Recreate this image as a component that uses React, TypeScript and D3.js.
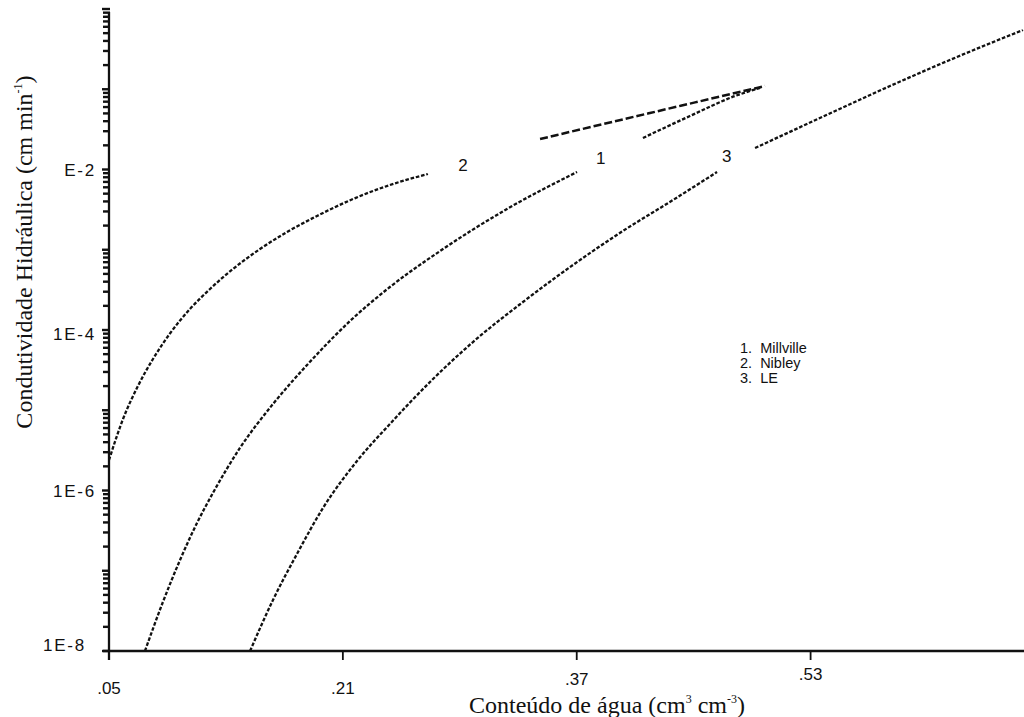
import React from 'react';
import * as d3 from 'd3';

// Water content (cm3 cm-3) vs log10 of hydraulic conductivity (cm min-1).
// Each soil curve is split where the printed number labels interrupt it.
const millvilleLower: [number, number][] = [
  [0.0746, -8.0], [0.0869, -7.389], [0.0986, -6.866], [0.1102, -6.405], [0.1211, -6.031],
  [0.1396, -5.47], [0.1622, -4.922], [0.1855, -4.436], [0.2149, -3.888], [0.2422, -3.464],
  [0.2765, -3.016], [0.3223, -2.492], [0.3702, -2.031],
];
const millvilleUpper: [number, number][] = [
  [0.4153, -1.607], [0.4475, -1.333], [0.4783, -1.084], [0.4954, -0.984],
];
const nibleyLower: [number, number][] = [
  [0.05, -5.62], [0.0596, -5.109], [0.0698, -4.698], [0.0801, -4.361], [0.0917, -4.044],
  [0.1054, -3.738], [0.1191, -3.489], [0.1348, -3.24], [0.1533, -2.991], [0.1718, -2.779],
  [0.1923, -2.579], [0.2169, -2.368], [0.2422, -2.193], [0.2682, -2.056],
];
const nibleyUpper: [number, number][] = [
  [0.3449, -1.62], [0.4201, -1.296], [0.4988, -0.96],
];
const leLower: [number, number][] = [
  [0.1465, -8.0], [0.1622, -7.364], [0.1786, -6.791], [0.1964, -6.218], [0.2197, -5.632],
  [0.2422, -5.171], [0.2696, -4.648], [0.299, -4.15], [0.3332, -3.651], [0.3674, -3.19],
  [0.4016, -2.766], [0.4359, -2.38], [0.466, -2.031],
];
const leUpper: [number, number][] = [
  [0.492, -1.732], [0.5275, -1.433], [0.5843, -0.96], [0.6301, -0.598], [0.6753, -0.262],
];

const curveNumbers = ['1', '2', '3'];
const curveNumberTheta = [0.3865, 0.2921, 0.4727];
const curveNumberLogK = [-1.857, -1.944, -1.844];

const legendItems = ['1.  Millville', '2.  Nibley', '3.  LE'];

const thetaTicks = [0.05, 0.21, 0.37, 0.53];
const thetaTickLabels = ['.05', '.21', '.37', '.53'];
const kLabelValues = [1e-8, 1e-6, 1e-4, 1e-2];
const kLabelTexts = ['1E-8', '1E-6', '1E-4', 'E-2'];

const W = 1024;
const H = 717;
const x0 = 109;
const yBottom = 651;

export default function App() {
  const x = d3.scaleLinear().domain([0.05, 0.676]).range([x0, 1024]);
  const y = d3.scaleLog().domain([1e-8, 1]).range([yBottom, 9]);

  const line = d3
    .line<[number, number]>()
    .x((d) => x(d[0]))
    .y((d) => y(Math.pow(10, d[1])))
    .curve(d3.curveMonotoneX);

  // log minor ticks for every decade from 1E-8 to 1E0
  const minorTicks: number[] = [];
  const majorTicks: number[] = [];
  for (let e = -8; e <= 0; e++) {
    majorTicks.push(Math.pow(10, e));
    if (e < 0) for (let m = 2; m <= 9; m++) minorTicks.push(m * Math.pow(10, e));
  }

  // small per-label offsets for the printed tick labels
  const xLabelDy = [43, 43, 34, 29];
  const yLabelRight = [86, 96, 96, 96];
  const yLabelDy = [-6, 1, 4, 1];

  const sans = '"Liberation Sans", Arial, Helvetica, sans-serif';
  const serif = '"Liberation Serif", "Times New Roman", serif';

  const dotted = { fill: 'none', stroke: '#111', strokeWidth: 2.3, strokeDasharray: '3.6 1.8' };
  const dashed = { fill: 'none', stroke: '#111', strokeWidth: 2.5, strokeDasharray: '8 3' };

  return (
    <svg
      width={W}
      height={H}
      viewBox={`0 0 ${W} ${H}`}
      style={{ position: 'absolute', left: 0, top: 0, background: '#fff' }}
    >
      <rect x={0} y={0} width={W} height={H} fill="#fff" />

      {/* y axis */}
      <line x1={x0} x2={x0} y1={12} y2={yBottom + 9} stroke="#111" strokeWidth={2.3} />
      {minorTicks.map((t, i) => (
        <line key={'mi' + i} x1={x0 - 6} x2={x0 + 1} y1={y(t)} y2={y(t)} stroke="#111" strokeWidth={2.4} />
      ))}
      {majorTicks.map((t, i) => (
        <line key={'ma' + i} x1={x0 - 7} x2={x0 + 1} y1={y(t)} y2={y(t)} stroke="#111" strokeWidth={2.4} />
      ))}
      {kLabelValues.map((v, i) => (
        <text
          key={'yl' + i}
          x={yLabelRight[i]}
          y={y(v) + yLabelDy[i]}
          textAnchor="end"
          dominantBaseline="central"
          fontFamily={sans}
          fontSize={17}
          letterSpacing={1.8}
          fill="#111"
        >
          {kLabelTexts[i]}
        </text>
      ))}

      {/* x axis */}
      <line x1={x0 - 6} x2={W} y1={yBottom} y2={yBottom} stroke="#111" strokeWidth={2.5} />
      {thetaTicks.map((t, i) => (
        <g key={'xt' + i}>
          <line x1={x(t)} x2={x(t)} y1={yBottom} y2={yBottom + 9} stroke="#111" strokeWidth={1.8} />
          <text
            x={x(t)}
            y={yBottom + xLabelDy[i]}
            textAnchor="middle"
            fontFamily={sans}
            fontSize={17}
            fill="#111"
          >
            {thetaTickLabels[i]}
          </text>
        </g>
      ))}

      {/* curves */}
      <path d={line(nibleyLower) || ''} style={dotted} />
      <path d={line(nibleyUpper) || ''} style={dashed} />
      <path d={line(millvilleLower) || ''} style={dotted} />
      <path d={line(millvilleUpper) || ''} style={dotted} />
      <path d={line(leLower) || ''} style={dotted} />
      <path d={line(leUpper) || ''} style={dotted} />

      {curveNumbers.map((n, i) => (
        <text
          key={'cn' + i}
          x={x(curveNumberTheta[i])}
          y={y(Math.pow(10, curveNumberLogK[i]))}
          textAnchor="middle"
          dominantBaseline="central"
          fontFamily={sans}
          fontSize={17}
          fill="#111"
        >
          {n}
        </text>
      ))}

      {/* legend */}
      {legendItems.map((s, i) => (
        <text
          key={'lg' + i}
          x={740}
          y={353 + i * 15}
          fontFamily={sans}
          fontSize={14.5}
          fill="#111"
          style={{ whiteSpace: 'pre' }}
        >
          {s}
        </text>
      ))}

      {/* axis titles */}
      <text x={607} y={713} textAnchor="middle" fontFamily={serif} fontSize={24} fill="#111">
        Conteúdo de água (cm
        <tspan fontSize={12} dy={-10}>3</tspan>
        <tspan dy={10}> cm</tspan>
        <tspan fontSize={12} dy={-10}>-3</tspan>
        <tspan dy={10}>)</tspan>
      </text>
      <text
        transform="translate(32,252) rotate(-90)"
        textAnchor="middle"
        fontFamily={serif}
        fontSize={24}
        fill="#111"
      >
        Condutividade Hidráulica (cm min
        <tspan fontSize={12} dy={-10}>-1</tspan>
        <tspan dy={10}>)</tspan>
      </text>
    </svg>
  );
}
